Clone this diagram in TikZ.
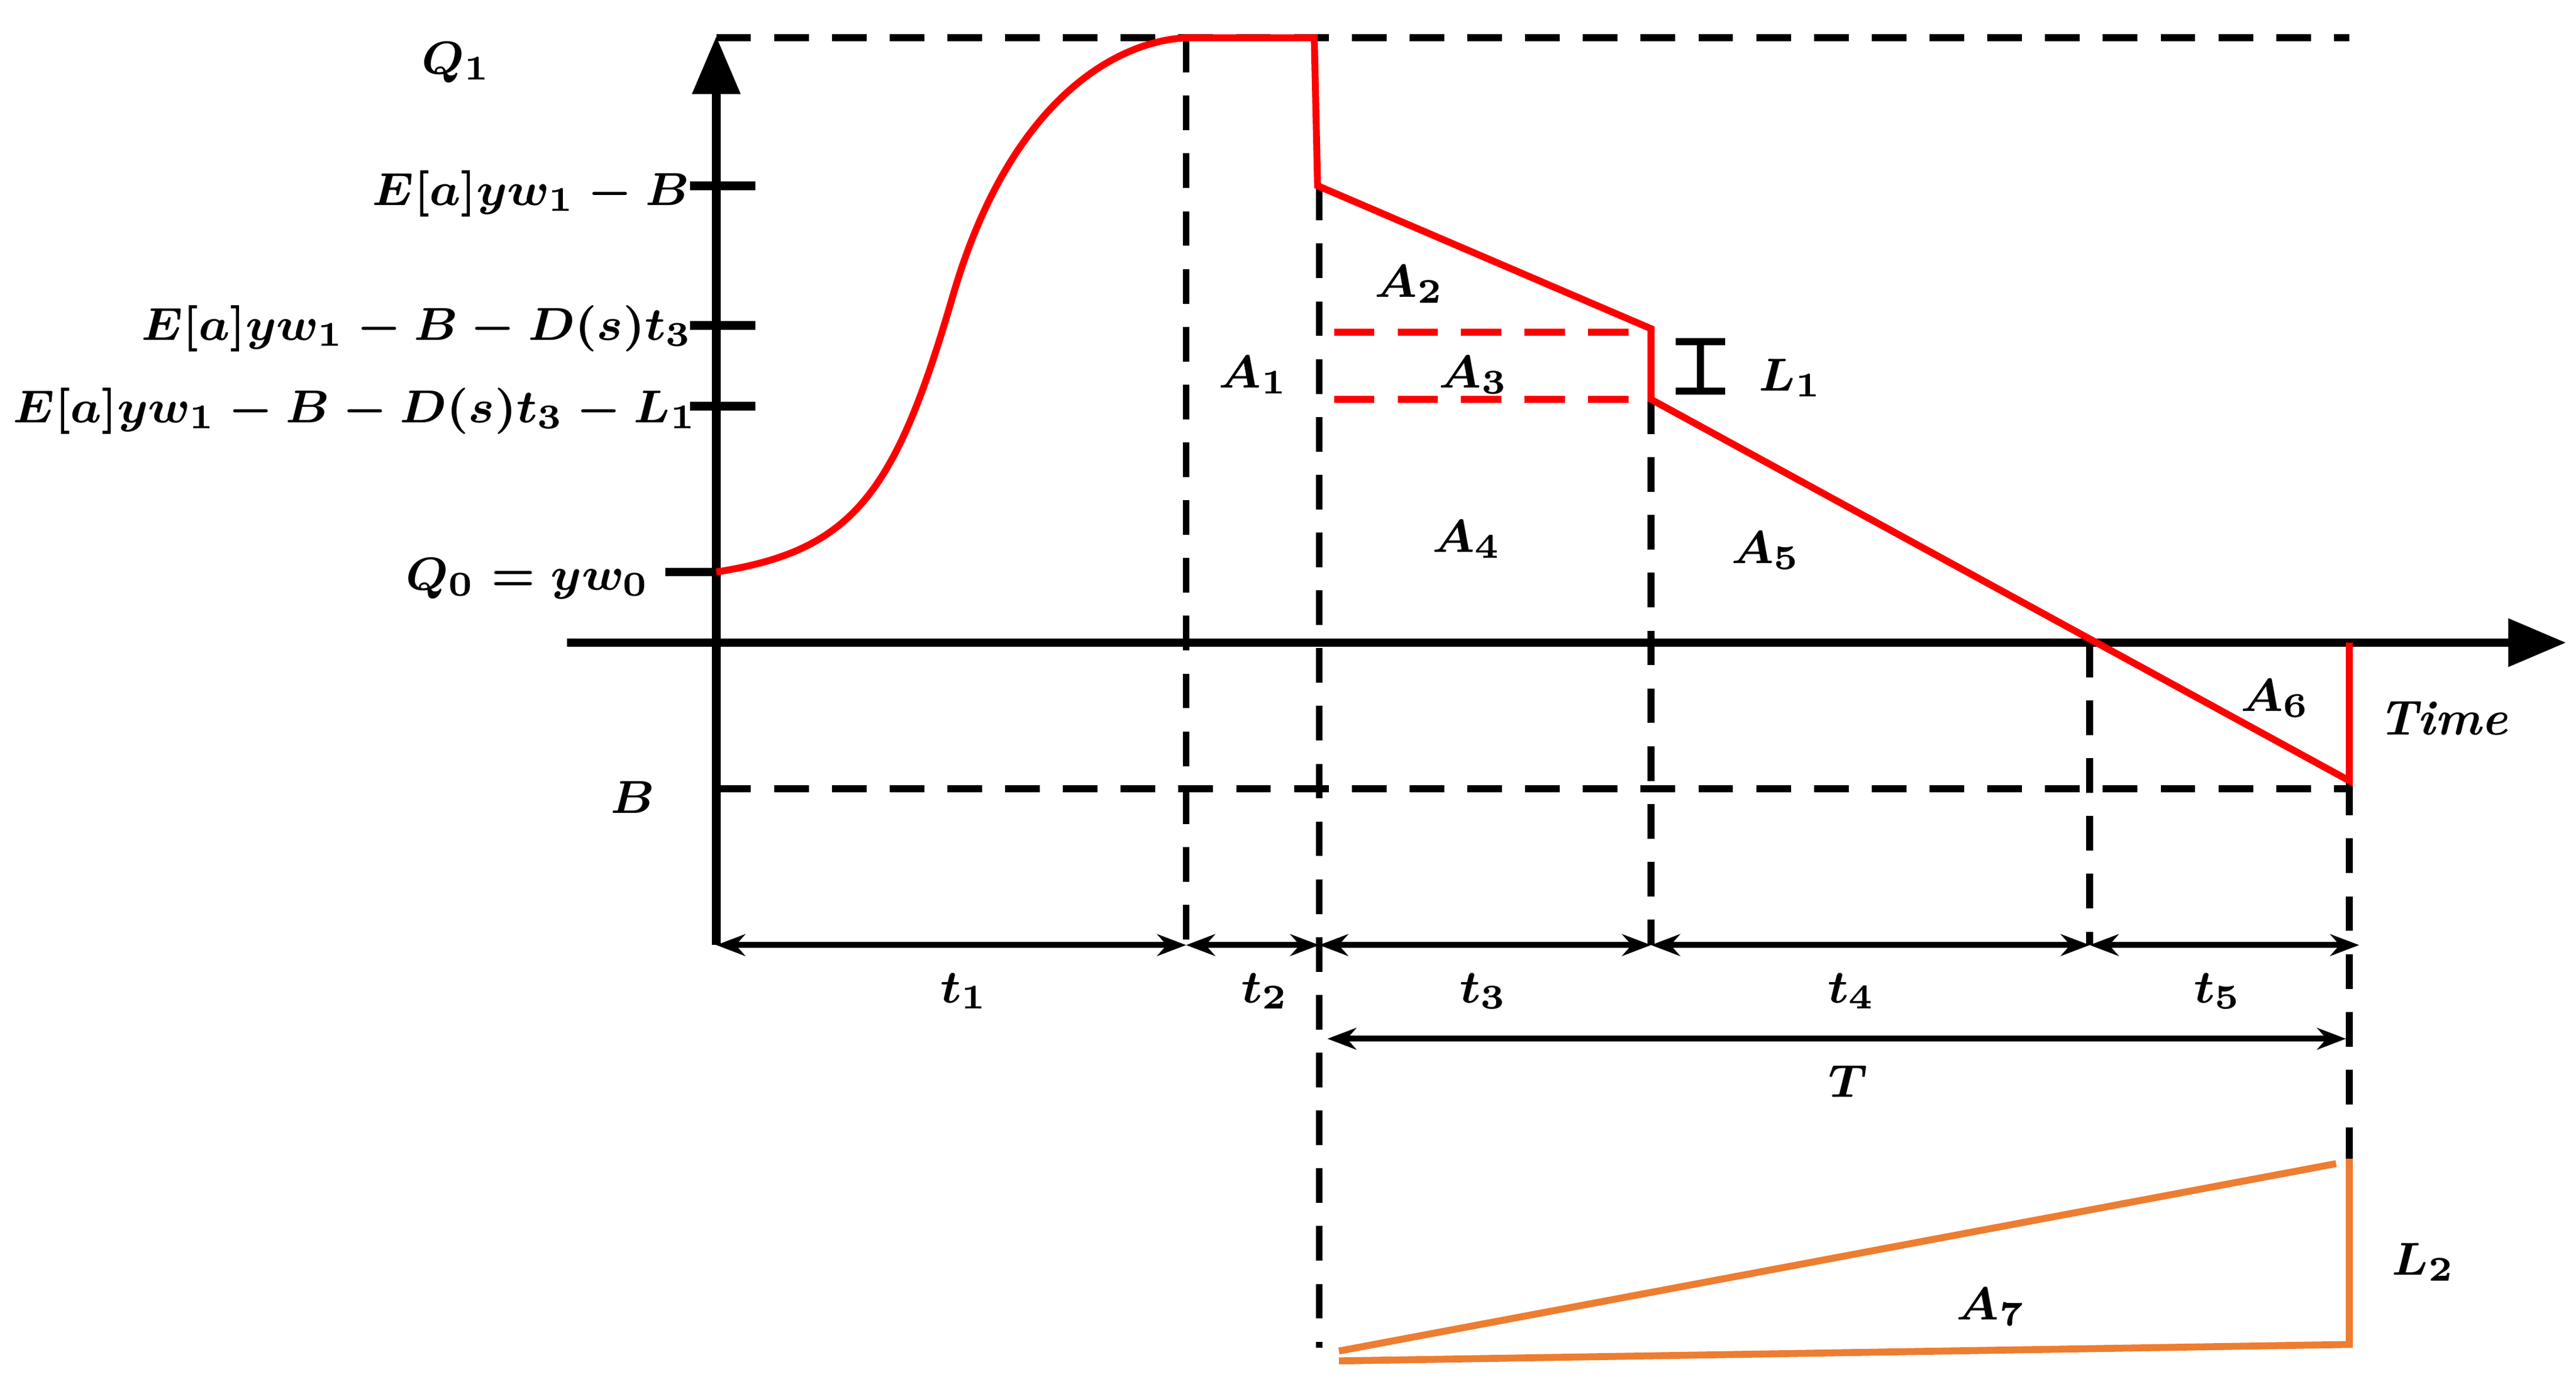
\documentclass[tikz,border=0pt]{standalone}
\usetikzlibrary{arrows.meta}
\definecolor{og1}{HTML}{ED7D31}
\begin{document}
\begin{tikzpicture}[x=0.01cm,y=-0.01cm,
  lab/.style={font=\fontsize{8.5}{10}\selectfont\boldmath},
  dsh/.style={black,line width=1.2pt,dash pattern=on 6pt off 4pt},
  ax/.style={black,line width=1.5pt},
  rd/.style={red,line width=1.2pt},
  dim/.style={black,line width=1pt,{Stealth[length=5pt]}-{Stealth[length=5pt]}},
  og/.style={og1,line width=1.2pt}]
\useasboundingbox (0,0) rectangle (1568,839);
% dashed guides
\draw[dsh] (436,23) -- (1430,23);
\draw[dsh] (436,480) -- (1430,480);
\draw[dsh] (722,23) -- (722,575);
\draw[dsh] (803,113) -- (803,820);
\draw[dsh] (1005,243) -- (1005,575);
\draw[dsh] (1272,391) -- (1272,575);
\draw[dsh] (1430,475) -- (1430,820);
% axes
\draw[ax,-{Triangle[length=10pt,width=8pt]}] (436,575) -- (436,22);
\draw[ax,-{Triangle[length=10pt,width=8pt]}] (345,391) -- (1562,391);
% ticks
\foreach \yy in {113,198,247} \draw[ax] (420,\yy) -- (460,\yy);
\draw[ax] (405,348) -- (436,348);
% red curve
\draw[rd] (436,348) .. controls (520,335) and (545,300) .. (580,180)
  .. controls (615,60) and (680,25) .. (722,23) -- (800,23) -- (802,113)
  -- (1005,200) -- (1005,243) -- (1430,475) -- (1430,391);
\draw[rd,dash pattern=on 7pt off 4pt] (812,202) -- (1005,202);
\draw[rd,dash pattern=on 7pt off 4pt] (812,243) -- (1005,243);
% L1 bracket
\draw[ax,line width=1.2pt] (1035,208) -- (1035,238) (1020,208) -- (1050,208) (1020,238) -- (1050,238);
% dimension arrows
\draw[dim] (436,575) -- (722,575);
\draw[dim] (722,575) -- (803,575);
\draw[dim] (803,575) -- (1005,575);
\draw[dim] (1005,575) -- (1272,575);
\draw[dim] (1272,575) -- (1436,575);
\draw[dim] (808,632) -- (1428,632);
% orange
\draw[og] (815,822) -- (1422,708);
\draw[og] (815,828) -- (1430,818) -- (1430,705);
% labels
\node[lab] (q1) at (278,38) {$Q_1$};
\node[lab,anchor=east] (l1) at (432,118) {$E[a]yw_1-B$};
\node[lab,anchor=east] (l2) at (434,200) {$E[a]yw_1-B-D(s)t_3$};
\node[lab,anchor=east] (l3) at (437,250) {$E[a]yw_1-B-D(s)t_3-L_1$};
\node[lab,anchor=east] (l4) at (408,352) {$Q_0=yw_0$};
\node[lab] (b) at (385,485) {$B$};
\node[lab] (a1) at (763,228) {$A_1$};
\node[lab] (a2) at (858,173) {$A_2$};
\node[lab] (a3) at (897,228) {$A_3$};
\node[lab] (a4) at (893,328) {$A_4$};
\node[lab] (a5) at (1075,335) {$A_5$};
\node[lab] (a6) at (1385,425) {$A_6$};
\node[lab] (a7) at (1212,795) {$A_7$};
\node[lab] (L1) at (1090,230) {$L_1$};
\node[lab] (L2) at (1475,768) {$L_2$};
\node[lab] (tm) at (1487,437) {\bfseries\itshape Time};
\node[lab] (t1) at (587,603) {$t_1$};
\node[lab] (t2) at (770,603) {$t_2$};
\node[lab] (t3) at (903,603) {$t_3$};
\node[lab] (t4) at (1127,603) {$t_4$};
\node[lab] (t5) at (1350,603) {$t_5$};
\node[lab] (T) at (1125,658) {$T$};
\end{tikzpicture}
\end{document}
